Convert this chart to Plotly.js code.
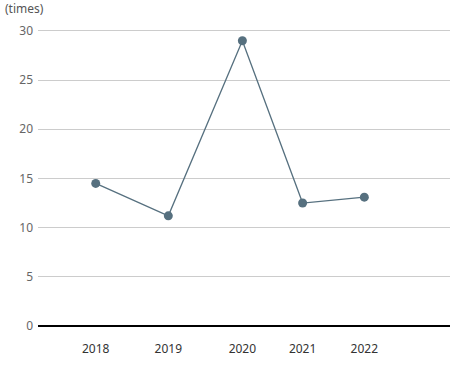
<!DOCTYPE html>
<html>
<head>
<meta charset="utf-8">
<script src="https://cdn.plot.ly/plotly-3.0.1.min.js"></script>
<style>html,body{margin:0;padding:0;background:#fff;}#chart{width:450px;height:380px;}</style>
</head>
<body>
<div id="chart"></div>
<script>
const years = ['2018', '2019', '2020', '2021', '2022'];
const xPos = [0, 1, 2.02, 2.85, 3.7];
const values = [14.5, 11.2, 29.0, 12.5, 13.1];
const yTicks = [0, 5, 10, 15, 20, 25, 30];
const unitLabel = '(times)';

const trace = {
  x: xPos,
  y: values,
  type: 'scatter',
  mode: 'lines+markers',
  line: {color: '#56707f', width: 1.3},
  marker: {color: '#56707f', size: 9},
  hoverinfo: 'skip',
  showlegend: false
};

const layout = {
  width: 450,
  height: 380,
  margin: {l: 38, r: 0, t: 26.4, b: 54},
  paper_bgcolor: '#fff',
  plot_bgcolor: '#fff',
  font: {family: '"Noto Sans", "Open Sans", sans-serif', size: 12, color: '#555'},
  xaxis: {
    range: [-0.795, 4.88],
    tickvals: xPos,
    ticktext: years,
    showgrid: false,
    zeroline: false,
    showline: false,
    ticks: '',
    ticklabelstandoff: 14,
    tickfont: {size: 12, color: '#333'},
    fixedrange: true
  },
  yaxis: {
    range: [0, 30.5],
    tickvals: yTicks,
    showgrid: true,
    gridcolor: '#cccccc',
    gridwidth: 1,
    zeroline: true,
    zerolinecolor: '#000',
    zerolinewidth: 1.2,
    showline: false,
    ticks: '',
    ticklabelstandoff: 4,
    tickfont: {size: 12, color: '#666'},
    fixedrange: true
  },
  annotations: [{
    text: unitLabel,
    xref: 'paper', yref: 'paper',
    x: -35 / 412, y: 1 + 17 / 299.6,
    xanchor: 'left', yanchor: 'middle',
    showarrow: false,
    font: {size: 12, color: '#555'}
  }]
};

Plotly.newPlot('chart', [trace], layout, {displayModeBar: false, staticPlot: true});
</script>
</body>
</html>
